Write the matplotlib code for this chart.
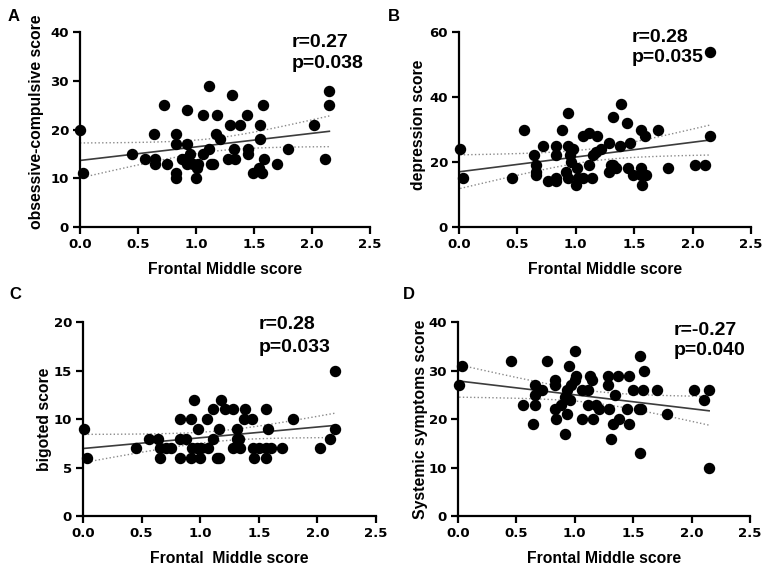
import matplotlib
matplotlib.use("Agg")
import matplotlib.pyplot as plt
import numpy as np

plt.rcParams['font.family'] = ['Liberation Sans', 'DejaVu Sans']

# panel A: obsessive-compulsive
xa = [0.0, 0.03, 0.45, 0.56, 0.64, 0.65, 0.65, 0.72, 0.75, 0.83, 0.83, 0.83, 0.83, 0.88,
      0.92, 0.92, 0.91, 0.92, 0.95, 0.97, 1.0, 1.01, 1.02, 1.06, 1.06, 1.11, 1.11, 1.13,
      1.15, 1.17, 1.18, 1.21, 1.28, 1.29, 1.31, 1.33, 1.34, 1.38, 1.44, 1.45, 1.45, 1.49,
      1.54, 1.55, 1.55, 1.57, 1.58, 1.59, 1.70, 1.79, 2.02, 2.11, 2.15, 2.15]
ya = [20, 11, 15, 14, 19, 14, 13, 25, 13, 19, 17, 11, 10, 14,
      24, 17, 14, 13, 15, 13, 10, 12, 13, 15, 23, 29, 16, 13,
      13, 19, 23, 18, 14, 21, 27, 16, 14, 21, 23, 16, 15, 11,
      12, 21, 18, 11, 25, 14, 13, 16, 21, 14, 28, 25]

# panel B: depression
xb = [0.01, 0.03, 0.45, 0.56, 0.64, 0.66, 0.66, 0.66, 0.72, 0.76, 0.83, 0.83, 0.83, 0.83,
      0.88, 0.93, 0.93, 0.92, 0.93, 0.95, 0.96, 0.96, 0.98, 1.0, 1.01, 1.02, 1.06, 1.06,
      1.11, 1.11, 1.14, 1.15, 1.17, 1.18, 1.22, 1.28, 1.28, 1.30, 1.32, 1.32, 1.34, 1.38,
      1.39, 1.44, 1.46, 1.45, 1.49, 1.56, 1.56, 1.56, 1.57, 1.59, 1.60, 1.70, 1.79, 2.02,
      2.11, 2.15, 2.15]
yb = [24, 15, 15, 30, 22, 19, 17, 16, 25, 14, 25, 22, 15, 14,
      30, 35, 25, 17, 15, 22, 24, 20, 24, 13, 18, 15, 15, 28,
      29, 19, 15, 22, 23, 28, 24, 26, 17, 19, 34, 19, 18, 25,
      38, 32, 26, 18, 16, 30, 18, 16, 13, 28, 16, 30, 18, 19,
      19, 28, 54]

# panel C: bigoted
xc = [0.01, 0.03, 0.45, 0.56, 0.64, 0.66, 0.66, 0.71, 0.75, 0.83, 0.83, 0.83, 0.88, 0.92,
      0.95, 0.92, 0.93, 0.97, 0.98, 1.0, 1.01, 1.06, 1.07, 1.11, 1.11, 1.14, 1.16, 1.16,
      1.18, 1.21, 1.28, 1.28, 1.31, 1.31, 1.33, 1.34, 1.37, 1.38, 1.44, 1.45, 1.46, 1.50,
      1.56, 1.56, 1.56, 1.58, 1.60, 1.70, 1.79, 2.02, 2.11, 2.15, 2.15]
yc = [9, 6, 7, 8, 8, 6, 7, 7, 7, 10, 8, 6, 8, 10,
      12, 6, 7, 7, 9, 6, 7, 10, 7, 11, 8, 6, 6, 9,
      12, 11, 11, 7, 8, 9, 8, 7, 10, 11, 10, 7, 6, 7,
      11, 7, 6, 9, 7, 7, 10, 7, 8, 9, 15]

# panel D: systemic symptoms
xd = [0.01, 0.03, 0.45, 0.56, 0.64, 0.66, 0.66, 0.66, 0.72, 0.76, 0.83, 0.83, 0.83, 0.84,
      0.88, 0.92, 0.93, 0.93, 0.92, 0.95, 0.96, 0.97, 1.0, 1.0, 1.01, 1.06, 1.06, 1.11,
      1.11, 1.13, 1.15, 1.16, 1.18, 1.21, 1.28, 1.28, 1.29, 1.31, 1.33, 1.34, 1.37, 1.38,
      1.45, 1.46, 1.46, 1.50, 1.55, 1.56, 1.56, 1.57, 1.58, 1.59, 1.70, 1.79, 2.02, 2.11,
      2.15, 2.15]
yd = [27, 31, 32, 23, 19, 27, 25, 23, 26, 32, 28, 27, 22, 20,
      23, 24.5, 26, 21, 17, 31, 24, 27, 34, 28, 29, 26, 20, 26,
      23, 29, 28, 20, 23, 22, 29, 27, 22, 16, 19, 25, 29, 20,
      22, 29, 19, 26, 22, 13, 33, 22, 26, 30, 26, 21, 26, 24,
      26, 10]

panels = [
    ('A', xa, ya, 'obsessive-compulsive score', 'Frontal Middle score', 40, 10, 'r=0.27', 'p=0.038'),
    ('B', xb, yb, 'depression score', 'Frontal Middle score', 60, 20, 'r=0.28', 'p=0.035'),
    ('C', xc, yc, 'bigoted score', 'Frontal  Middle score', 20, 5, 'r=0.28', 'p=0.033'),
    ('D', xd, yd, 'Systemic symptoms score', 'Frontal Middle score', 40, 10, 'r=-0.27', 'p=0.040'),
]
rects = [
    [0.1046, 0.6018, 0.379, 0.342],
    [0.600, 0.6018, 0.3817, 0.342],
    [0.1085, 0.0947, 0.383, 0.340],
    [0.5987, 0.0947, 0.3817, 0.340],
]
txt_x = [0.73, 0.59, 0.60, 0.74]
txt_r = [0.944, 0.974, 0.99, 0.959]
txt_p = [0.841, 0.867, 0.871, 0.856]
ylab_pad = [4.5, 2.5, 1.0, 0.5]
ylab_y = [0.54, 0.523, 0.5, 0.5]
letter_pos = [(0.010, 0.985), (0.507, 0.985), (0.012, 0.497), (0.527, 0.497)]

fig = plt.figure(figsize=(7.65, 5.7), dpi=100)

for i, (let, x, y, ylab, xlab, ymax, ystep, rtxt, ptxt) in enumerate(panels):
    ax = fig.add_axes(rects[i])
    x = np.array(x)
    y = np.array(y, dtype=float)
    ax.scatter(x, y, s=52, color='black', zorder=3, clip_on=False)

    # linear fit with 95% confidence band
    n = len(x)
    b1, b0 = np.polyfit(x, y, 1)
    xs = np.linspace(x.min(), x.max(), 100)
    yhat = b0 + b1 * xs
    resid = y - (b0 + b1 * x)
    s = np.sqrt(np.sum(resid ** 2) / (n - 2))
    sxx = np.sum((x - x.mean()) ** 2)
    ci = 2.004 * s * np.sqrt(1.0 / n + (xs - x.mean()) ** 2 / sxx)
    ax.plot(xs, yhat, color='#3c3c3c', lw=1.2, zorder=2)
    ax.plot(xs, yhat + ci, color='#8a8a8a', lw=1.0, ls=':', zorder=2)
    ax.plot(xs, yhat - ci, color='#8a8a8a', lw=1.0, ls=':', zorder=2)

    ax.set_xlim(0, 2.5)
    ax.set_ylim(0, ymax)
    ax.set_xticks(np.arange(0, 2.51, 0.5))
    ax.set_xticklabels(['0.0', '0.5', '1.0', '1.5', '2.0', '2.5'])
    ax.set_yticks(np.arange(0, ymax + 0.1, ystep))
    for side in ['top', 'right']:
        ax.spines[side].set_visible(False)
    for side in ['left', 'bottom']:
        ax.spines[side].set_linewidth(1.6)
    ax.tick_params(width=1.6, length=5, pad=3)
    for lab in ax.get_xticklabels() + ax.get_yticklabels():
        lab.set_fontfamily('DejaVu Sans')
        lab.set_fontweight('bold')
        lab.set_fontsize(9.5)
    ax.set_xlabel(xlab, fontsize=11.3, fontweight='bold', labelpad=8)
    ax.set_ylabel(ylab, fontsize=11.3, fontweight='bold', labelpad=ylab_pad[i])
    ax.yaxis.label.set_y(ylab_y[i])
    ax.text(txt_x[i], txt_r[i], rtxt, transform=ax.transAxes, fontsize=14,
            fontweight='bold', va='center', ha='left')
    ax.text(txt_x[i], txt_p[i], ptxt, transform=ax.transAxes, fontsize=14,
            fontweight='bold', va='center', ha='left')
    fig.text(letter_pos[i][0], letter_pos[i][1], let, fontsize=12, fontweight='bold',
             va='top', ha='left')

fig.savefig('out.png', dpi=100)
